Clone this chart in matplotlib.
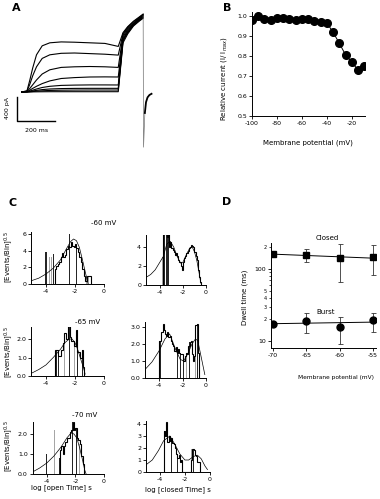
import numpy as np
import matplotlib
matplotlib.use('Agg')
import matplotlib.pyplot as plt

plt.rcParams['font.family'] = ['DejaVu Sans']
plt.rcParams['axes.unicode_minus'] = False

# ---------------- panel A: current traces (ms, pA) ----------------
act_t = [-28, 0, 15, 30, 50, 80, 120, 180, 250, 330, 410, 480]
act_I = [
    [0, 20, 200, 400, 620, 770, 820, 835, 830, 820, 810, 760],
    [0, 15, 130, 270, 420, 560, 620, 645, 650, 640, 630, 615],
    [0, 10, 60, 120, 200, 300, 370, 410, 420, 425, 420, 410],
    [0, 5, 30, 60, 95, 140, 185, 225, 240, 250, 252, 250],
    [0, 3, 15, 30, 50, 75, 95, 110, 115, 118, 118, 117],
    [0, 2, 8, 16, 27, 40, 50, 57, 60, 61, 61, 61],
    [0, 1, 4, 8, 14, 20, 26, 30, 32, 33, 33, 33],
    [0, 0, 1, 2, 3, 4, 5, 5, 5, 5, 5, 5],
]
tail_t = [505, 530, 560, 590, 611]
tail_I = [
    [990, 1090, 1180, 1250, 1300],
    [970, 1080, 1170, 1240, 1290],
    [950, 1060, 1150, 1230, 1280],
    [920, 1040, 1140, 1220, 1270],
    [890, 1020, 1130, 1210, 1260],
    [870, 1000, 1120, 1200, 1250],
    [850, 990, 1110, 1190, 1240],
    [820, 970, 1100, 1180, 1230],
]
drop_t = [611, 613, 620]
drop_I = [1270, -920, -350]
recov_t = [620, 626, 634, 644, 655]
recov_I = [-350, -170, -90, -50, -30]

# ---------------- panel B: relative current ----------------
b_volt = [-100, -95, -90, -85, -80, -75, -70, -65, -60, -55,
          -50, -45, -40, -35, -30, -25, -20, -15, -10]
b_rel = [0.980, 1.000, 0.987, 0.980, 0.990, 0.990, 0.985, 0.980, 0.987, 0.985,
         0.975, 0.972, 0.965, 0.918, 0.863, 0.805, 0.768, 0.730, 0.750]

# ---------------- panel C: sqrt dwell-time histograms ----------------
# outline: first bin edge, bin heights (bin width 0.1 log units)
c1_start, c1_h = -3.4, [1.8, 2.2, 2.4, 2.6, 3.2, 3.7, 3.3, 3.5, 4.2, 4.6, 4.4, 5.0, 4.6,
                        4.5, 4.8, 4.3, 3.8, 3.3, 2.6, 1.8, 1.0, 0.4, 1.0, 1.0, 1.0]
c1_dark = [(-4.0, 3.8), (-3.45, 3.6), (-2.35, 6.0), (-1.9, 4.6)]
c1_gray = [(-3.75, 3.2), (-3.6, 3.3), (-2.28, 5.2), (-1.05, 1.0), (-1.2, 1.0)]
c1_fit_x = [-5, -4.5, -4, -3.5, -3, -2.6, -2.3, -2.1, -1.9, -1.7, -1.5, -1.3, -1.15, -1.1]
c1_fit_y = [0.4, 0.7, 1.2, 1.9, 2.9, 4.2, 5.1, 5.4, 5.2, 4.4, 3.0, 1.5, 0.4, 0.0]

c2_start, c2_h = -3.7, [5.4, 5.4, 5.4, 5.0, 5.4, 4.0, 4.5, 3.9, 3.7, 3.5, 3.2, 3.4, 3.0, 2.6,
                        2.4, 2.0, 1.6, 2.4, 2.8, 3.1, 3.4, 3.6, 3.9, 4.0, 4.2, 4.1, 4.0,
                        3.5, 3.0, 2.6, 1.6, 0.8, 0.3]
c2_dark = [(-3.6, 5.4), (-3.45, 5.4), (-3.35, 5.4), (-3.25, 5.2)]
c2_gray = [(-3.77, 2.9)]
c2_fit_x = [-5.2, -4.8, -4.4, -4.0, -3.7, -3.4, -3.1, -2.8, -2.5, -2.2, -2.0, -1.7, -1.4,
            -1.2, -1.0, -0.8, -0.6, -0.45]
c2_fit_y = [0.8, 1.1, 1.6, 2.4, 3.0, 4.3, 4.6, 4.0, 3.0, 2.3, 2.4, 3.2, 3.9, 4.0, 3.5,
            2.6, 1.3, 0.2]

c3_start, c3_h = -3.35, [1.4, 1.4, 1.1, 1.1, 1.4, 1.8, 2.3, 2.0, 2.0, 2.7, 2.1, 1.9, 1.9,
                         1.6, 2.5, 1.3, 1.3, 1.0, 1.4, 0.5]
c3_dark = [(-3.3, 1.4), (-3.15, 1.4), (-2.35, 2.7), (-1.85, 2.5), (-1.45, 1.4)]
c3_gray = [(-4.75, 2.5), (-2.7, 2.3), (-2.05, 1.6)]
c3_fit_x = [-5, -4.5, -4, -3.5, -3, -2.7, -2.4, -2.2, -2.0, -1.8, -1.6, -1.4, -1.3]
c3_fit_y = [0.15, 0.35, 0.6, 1.0, 1.45, 1.8, 2.0, 2.0, 1.8, 1.4, 0.9, 0.4, 0.1]

c4_start, c4_h = -4.0, [2.2, 2.2, 2.7, 3.2, 2.8, 2.6, 2.5, 2.7, 2.4, 2.5, 2.2, 2.0, 1.9,
                        1.6, 1.8, 1.5, 1.7, 1.5, 1.4, 1.4, 1.0, 1.0, 1.3, 1.5, 1.4, 1.9,
                        2.1, 2.2, 1.4, 1.0, 1.3, 3.1, 3.2, 1.5]
c4_dark = [(-3.95, 2.2), (-3.85, 2.2), (-2.45, 1.7), (-2.3, 1.8), (-2.2, 1.5),
           (-1.95, 1.0), (-1.4, 2.1), (-0.75, 3.2)]
c4_gray = [(-5.1, 0.55), (-3.65, 3.2), (-2.9, 2.0), (-1.65, 1.5), (-0.9, 3.1)]
c4_fit_x = [-5.2, -4.6, -4.0, -3.5, -3.1, -2.6, -2.2, -1.9, -1.5, -1.2, -0.9, -0.7,
            -0.4, -0.1]
c4_fit_y = [0.5, 0.95, 1.6, 2.3, 2.6, 1.7, 1.1, 1.0, 1.5, 2.0, 2.3, 2.2, 1.2, 0.2]

c5_start, c5_h = -3.1, [1.2, 1.4, 1.0, 1.4, 1.6, 1.8, 1.8, 2.1, 2.2, 2.6, 2.2, 2.3, 1.8,
                        1.7, 1.5, 0.9, 0.5]
c5_dark = [(-4.0, 1.0), (-3.1, 0.8), (-2.17, 2.6), (-1.95, 2.3)]
c5_gray = [(-3.45, 2.2), (-1.7, 1.5)]
c5_fit_x = [-5, -4.5, -4, -3.5, -3, -2.6, -2.3, -2.1, -1.9, -1.7, -1.5, -1.35, -1.25]
c5_fit_y = [0.1, 0.3, 0.55, 0.9, 1.35, 1.8, 2.05, 2.0, 1.8, 1.3, 0.7, 0.2, 0.0]

c6_start, c6_h = -3.7, [3.4, 3.0, 4.2, 2.5, 3.0, 2.6, 2.8, 2.4, 2.3, 2.0, 1.5, 1.2, 1.4,
                        0.8, 1.0, 0, 0, 0, 0, 0, 0, 0, 1.0, 1.9, 1.8, 1.4, 1.3, 0.8, 0.8]
c6_dark = [(-3.65, 3.4), (-3.05, 2.8), (-2.6, 1.5), (-1.3, 1.8)]
c6_gray = [(-3.5, 4.2), (-1.45, 1.9), (-1.2, 1.4)]
c6_fit_x = [-5.1, -4.6, -4.1, -3.7, -3.2, -2.8, -2.4, -2.0, -1.7, -1.3, -1.0, -0.7,
            -0.4, -0.2]
c6_fit_y = [0.6, 1.0, 1.8, 2.6, 3.0, 2.3, 1.5, 1.0, 1.0, 1.3, 1.4, 1.1, 0.5, 0.2]

# ---------------- panel D: dwell times (ms) ----------------
d_volt = [-70, -65, -60, -55]
closed_ms = [161, 158, 141, 145]
closed_lo = [161, 124, 67, 82]
closed_hi = [161, 188, 220, 213]
burst_ms = [17.3, 19.2, 15.6, 19.6]
burst_lo = [17.3, 12.9, 9.1, 13.2]
burst_hi = [17.3, 24.9, 21.8, 24.9]

# ================= figure =================
W, H = 380, 499
fig = plt.figure(figsize=(W / 100, H / 100), dpi=100)


def box(x0, y0, x1, y1):
    return fig.add_axes([x0 / W, 1 - y1 / H, (x1 - x0) / W, (y1 - y0) / H])


def ftext(x, y, s, **kw):
    fig.text(x / W, 1 - y / H, s, ha='center', va='center', **kw)


def style(ax):
    for s in ['top', 'right']:
        ax.spines[s].set_visible(False)
    for s in ['left', 'bottom']:
        ax.spines[s].set_linewidth(0.7)
    ax.tick_params(length=2, width=0.6, labelsize=4.5, pad=1.5, direction='out')


# panel A
axA = box(10, 10, 160, 150)
axA.axis('off')
axA.set_xlim(-89.4, 699.6)
axA.set_ylim(-967, 1367)
for row, tail in zip(act_I, tail_I):
    axA.plot(act_t + tail_t, row + tail, color='black', lw=0.8)
axA.plot(drop_t, drop_I, color='0.45', lw=0.5)
axA.plot(recov_t, recov_I, color='black', lw=1.3)
# scale bars 200 ms / 400 pA
axA.plot([-53, -53, 147], [-83, -483, -483], color='black', lw=1.0)
ftext(8, 108, '400 pA', rotation=90, fontsize=4.5)
ftext(37, 131, '200 ms', fontsize=4.5)

# panel B
axB = box(252, 12, 365, 116)
style(axB)
axB.plot(b_volt, b_rel, color='black', lw=0.7, marker='o', markersize=5.5)
axB.set_xlim(-100, -9.5)
axB.set_ylim(0.5, 1.02)
axB.set_xticks([-100, -80, -60, -40, -20])
axB.set_yticks([0.5, 0.6, 0.7, 0.8, 0.9, 1.0])
axB.set_yticklabels(['0.5', '0.6', '0.7', '0.8', '0.9', '1.0'])
ftext(224, 78, 'Relative current (I/ I$_{max}$)', rotation=90, fontsize=5)
ftext(308, 143, 'Membrane potential (mV)', fontsize=5)

# panel C
c_panels = [
    dict(pos=(31.5, 231.5, 104, 284), xlim=(-5, 0), ylim=(0, 6.3), yt=[0, 2, 4, 6],
         yl=['0', '2', '4', '6'], start=c1_start, h=c1_h, dark=c1_dark, gray=c1_gray,
         fx=c1_fit_x, fy=c1_fit_y),
    dict(pos=(146, 234.6, 206, 285), xlim=(-5.2, 0), ylim=(0, 5.3), yt=[0, 2, 4],
         yl=['0', '2', '4'], start=c2_start, h=c2_h, dark=c2_dark, gray=c2_gray,
         fx=c2_fit_x, fy=c2_fit_y),
    dict(pos=(31.5, 327, 104, 376), xlim=(-5, 0), ylim=(0, 2.65), yt=[0, 1, 2],
         yl=['0.0', '1.0', '2.0'], start=c3_start, h=c3_h, dark=c3_dark, gray=c3_gray,
         fx=c3_fit_x, fy=c3_fit_y),
    dict(pos=(145, 322, 206, 378), xlim=(-5.2, 0), ylim=(0, 3.3), yt=[0, 1, 2, 3],
         yl=['0.0', '1.0', '2.0', '3.0'], start=c4_start, h=c4_h, dark=c4_dark,
         gray=c4_gray, fx=c4_fit_x, fy=c4_fit_y),
    dict(pos=(32.5, 422, 104, 474), xlim=(-5, 0), ylim=(0, 2.6), yt=[0, 1, 2],
         yl=['0.0', '1.0', '2.0'], start=c5_start, h=c5_h, dark=c5_dark, gray=c5_gray,
         fx=c5_fit_x, fy=c5_fit_y),
    dict(pos=(146, 421, 210, 472), xlim=(-5.1, 0), ylim=(0, 4.25), yt=[0, 1, 2, 3, 4],
         yl=['0', '1', '2', '3', '4'], start=c6_start, h=c6_h, dark=c6_dark,
         gray=c6_gray, fx=c6_fit_x, fy=c6_fit_y),
]
for p in c_panels:
    ax = box(*p['pos'])
    style(ax)
    edges = p['start'] + 0.1 * np.arange(len(p['h']) + 1)
    gx, gy = zip(*p['gray'])
    ax.bar(gx, gy, width=0.05, color='0.65', lw=0)
    dx, dy = zip(*p['dark'])
    ax.bar(dx, dy, width=0.07, color='0.15', lw=0)
    ax.stairs(p['h'], edges, color='black', lw=0.8, baseline=0)
    ax.plot(p['fx'], p['fy'], color='black', lw=0.5)
    ax.set_xlim(*p['xlim'])
    ax.set_ylim(*p['ylim'])
    ax.set_xticks([-4, -2, 0])
    ax.set_yticks(p['yt'])
    ax.set_yticklabels(p['yl'])

ftext(104, 223, '-60 mV', fontsize=5)
ftext(88, 322, '-65 mV', fontsize=5)
ftext(85, 415, '-70 mV', fontsize=5)
for yc in [257, 352, 446]:
    ftext(9, yc, '[Events/Bin]$^{0.5}$', rotation=90, fontsize=5)
ftext(61, 488, 'log [open Time] s', fontsize=5)
ftext(178, 490, 'log [closed Time] s', fontsize=5)

# panel D
axD = box(271, 243, 376, 348)
style(axD)
axD.set_yscale('log')
cl = np.array(closed_ms)
axD.errorbar(d_volt, closed_ms, yerr=[cl - np.array(closed_lo), np.array(closed_hi) - cl],
             fmt='none', ecolor='0.2', elinewidth=0.6, capsize=1.8, capthick=0.6)
bu = np.array(burst_ms)
axD.errorbar(d_volt, burst_ms, yerr=[bu - np.array(burst_lo), np.array(burst_hi) - bu],
             fmt='none', ecolor='0.2', elinewidth=0.6, capsize=1.8, capthick=0.6)
for vals in [closed_ms, burst_ms]:
    k, b = np.polyfit(d_volt, np.log10(vals), 1)
    axD.plot([-70, -55], 10 ** (k * np.array([-70, -55]) + b), color='black', lw=0.7)
axD.plot(d_volt, closed_ms, 's', color='black', markersize=5)
axD.plot(d_volt, burst_ms, 'o', color='black', markersize=5)
axD.set_xlim(-70.3, -54.55)
axD.set_ylim(8, 230)
axD.set_xticks(d_volt)
axD.set_yticks([10, 100])
axD.set_yticklabels(['10', '100'])
axD.set_yticks([20, 30, 40, 50, 60, 70, 80, 90, 200], minor=True)
axD.set_yticklabels(['2', '3', '4', '5', '', '', '', '', '2'], minor=True)
axD.tick_params(which='minor', length=1.5, width=0.5, labelsize=3.5, pad=1.5)
ftext(327, 238, 'Closed', fontsize=5)
ftext(326, 312, 'Burst', fontsize=5)
ftext(245, 297, 'Dwell time (ms)', rotation=90, fontsize=5)
ftext(336, 377, 'Membrane potential (mV)', fontsize=4.2)

# panel letters
for letter, x, y in [('A', 16, 8), ('B', 227, 8), ('C', 13, 203), ('D', 227, 202)]:
    ftext(x, y, letter, fontsize=8, fontweight='bold')

fig.savefig('out.png', dpi=100)
